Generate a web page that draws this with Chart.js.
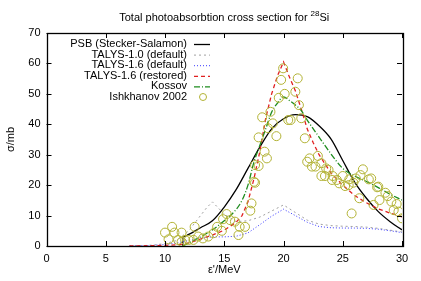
<!DOCTYPE html>
<html>
<head>
  <meta charset="utf-8">
  <title>Total photoabsorbtion cross section for 28Si</title>
  <style>
    * { margin: 0; padding: 0; }
    body { background: #fff; }
    #wrap { width: 421px; height: 281px; }
  </style>
  <script src="https://cdn.jsdelivr.net/npm/chart.js"></script>
</head>
<body>
  <div id="wrap"><canvas id="si28" width="421" height="281"></canvas></div>
  <script>
    // curves, energies in MeV and cross sections in mb
    const psbE = [11.5, 11.5, 12, 13, 14, 15, 16, 17, 18, 19, 20, 21, 22, 23, 24, 25, 26, 27, 28, 29, 30];
    const psbSigma = [0, 3, 3.8, 6, 8.3, 12.8, 18.5, 25.5, 32.5, 38.5, 41.8, 43.2, 42.5, 39.5, 35.2, 28.1, 21, 15.7, 11.3, 8, 5.3];

    const talys10E = [7, 8, 9, 10, 11, 12, 13, 13.5, 14, 14.5, 15, 16, 17, 18, 19, 20, 21, 22, 23, 24, 25, 26, 27, 28, 29, 30];
    const talys10Sigma = [0, 0.1, 0.3, 0.8, 1.8, 5, 10, 12.5, 14.5, 12.5, 10.5, 8, 8.3, 9.5, 11.5, 13.5, 11, 8.5, 7.2, 6.7, 6.5, 6.4, 6.2, 5.8, 5.2, 4.6];

    const talys16E = [7, 9, 10, 11, 12, 13, 14, 15, 16, 17, 18, 19, 20, 21, 22, 23, 24, 25, 26, 27, 28, 29, 30];
    const talys16Sigma = [0, 0.2, 0.5, 1, 1.8, 2.5, 3, 3, 3.2, 4.3, 7, 9.8, 12.1, 10, 7.8, 6.4, 6, 5.9, 5.9, 5.8, 5.5, 5, 4.4];

    const restoredE = [7, 9, 10, 11, 11.5, 12, 13, 14, 15, 16, 16.5, 17, 17.5, 18, 18.5, 19, 19.5, 20, 20.5, 21, 21.5, 22, 22.5, 23, 24, 25, 26, 27, 28, 29, 30];
    const restoredSigma = [0, 0.1, 0.2, 0.4, 0.6, 1, 2.3, 3.6, 5.2, 7.8, 10, 14.5, 22, 31, 42, 50, 56, 60.5, 55.5, 51, 45, 38.5, 34, 30, 24, 20, 16.6, 14.2, 12.2, 10.8, 9.6];

    const kossovE = [11.5, 12, 13, 14, 15, 16, 16.5, 17, 17.5, 18, 18.5, 19, 19.5, 20, 20.5, 21, 21.5, 22, 23, 24, 25, 26, 27, 28, 29, 30];
    const kossovSigma = [0, 1, 3, 5.3, 8.3, 12, 15, 20, 27.5, 33, 38.5, 44, 47, 49, 47.8, 46.3, 44.5, 41.4, 35.8, 30.3, 25.5, 23, 21.2, 19.2, 17, 15.1];

    // Ishkhanov 2002 measured points
    const ishE = [19.97, 19.8, 21.2, 20.1, 21.0, 19.6, 21.3, 18.9, 18.2, 20.4, 20.6, 21.5, 19.1, 19.4, 17.9, 21.8, 18.7, 18.4, 18.6, 17.9,
                  17.6, 17.3, 17.2, 15.2, 15.5, 14.4, 15.9, 16.3, 16.75, 16.2, 14.8, 14.1, 13.65, 13.2, 12.8, 12.4, 12.0, 12.5, 10.6, 10.0,
                  10.8, 11.4, 10.3, 11.1, 11.4, 11.7, 14.9, 17.5, 17.6,
                  22.0, 22.2, 22.4, 22.7, 22.9, 23.2, 23.6, 23.2, 23.5, 23.8, 24.15, 24.1, 24.5, 24.7, 25.0, 25.2, 25.5, 25.55, 25.9, 26.1,
                  26.5, 26.7, 27.2, 27.4, 27.9, 28.0, 28.6, 28.8, 29.1, 29.55, 28.1, 27.6, 26.4, 25.75, 29.3, 29.7, 30.0];
    const ishSigma = [58.4, 54.6, 55.1, 50, 50.7, 48.7, 46.3, 44.1, 42.3, 41.4, 41.4, 42, 40.3, 36.1, 35.7, 35.4, 38.7, 31, 28.8, 26.3,
                      20.8, 14, 11.6, 10.5, 8.5, 6.3, 8, 6.3, 6.3, 3.6, 5, 4.2, 3.1, 2.5, 3.1, 2, 2, 6.3, 6.3, 4.4,
                      4.4, 4.4, 2.2, 2, 1.4, 2, 8.8, 21.1, 26.6,
                      27.7, 28.8, 26.1, 26.1, 29.6, 27.2, 25.5, 23, 23, 25, 23, 21.7, 21.7, 20.6, 23, 19.7, 20, 21.9, 20.8, 22.2,
                      23.3, 25.2, 21.9, 22.2, 19.3, 19.5, 17.5, 16.4, 14.6, 13.8, 15.1, 13.5, 15.7, 10.7, 11.8, 11.3, 9.1];

    const xTicks = [0, 5, 10, 15, 20, 25, 30];
    const yTicks = [0, 10, 20, 30, 40, 50, 60, 70];

    function pts(xs, ys) {
      return xs.map((x, i) => ({ x: x, y: ys[i] }));
    }

    const FONT = "'Liberation Sans', Arial, sans-serif";

    // gnuplot-ish frame, inward ticks, title and legend
    const framePlugin = {
      id: 'frame',
      afterDraw(chart) {
        const ctx = chart.ctx;
        const a = chart.chartArea;
        const xs = chart.scales.x, ys = chart.scales.y;
        ctx.save();
        ctx.strokeStyle = '#000';
        ctx.lineWidth = 1;
        ctx.beginPath();
        xTicks.forEach(v => {
          const px = Math.round(xs.getPixelForValue(v)) + 0.5;
          ctx.moveTo(px, a.bottom); ctx.lineTo(px, a.bottom - 5);
          ctx.moveTo(px, a.top); ctx.lineTo(px, a.top + 5);
        });
        yTicks.forEach(v => {
          const py = Math.round(ys.getPixelForValue(v)) + 0.5;
          ctx.moveTo(a.left, py); ctx.lineTo(a.left + 5, py);
          ctx.moveTo(a.right, py); ctx.lineTo(a.right - 5, py);
        });
        ctx.stroke();
        ctx.lineWidth = 1.3;
        ctx.strokeRect(Math.round(a.left) + 0.5, Math.round(a.top) + 0.5, Math.round(a.right - a.left), Math.round(a.bottom - a.top));

        // title with superscript mass number
        ctx.fillStyle = '#000';
        ctx.textBaseline = 'alphabetic';
        const main = 'Total photoabsorbtion cross section for ';
        ctx.font = '11px ' + FONT;
        const w1 = ctx.measureText(main).width;
        ctx.font = '8px ' + FONT;
        const w2 = ctx.measureText('28').width;
        ctx.font = '11px ' + FONT;
        const w3 = ctx.measureText('Si').width;
        let tx = (a.left + a.right) / 2 - (w1 + w2 + w3) / 2;
        ctx.textAlign = 'left';
        ctx.fillText(main, tx, 21);
        ctx.font = '8px ' + FONT;
        ctx.fillText('28', tx + w1, 16);
        ctx.font = '11px ' + FONT;
        ctx.fillText('Si', tx + w1 + w2, 21);

        // legend
        ctx.font = '11px ' + FONT;
        ctx.textAlign = 'right';
        ctx.textBaseline = 'middle';
        chart.data.datasets.forEach((ds, i) => {
          const y = 44 + i * 10.6;
          ctx.fillStyle = '#000';
          ctx.fillText(ds.label, 187, y);
          if (ds.showLine) {
            ctx.strokeStyle = ds.borderColor;
            ctx.lineWidth = ds.borderWidth;
            ctx.setLineDash(ds.borderDash || []);
            ctx.beginPath();
            ctx.moveTo(194, y + 0.5); ctx.lineTo(210, y + 0.5);
            ctx.stroke();
            ctx.setLineDash([]);
          } else {
            ctx.strokeStyle = ds.borderColor;
            ctx.lineWidth = 1;
            ctx.beginPath();
            ctx.arc(203, y, 3.5, 0, Math.PI * 2);
            ctx.stroke();
          }
        });
        ctx.restore();
      }
    };

    const lineDefaults = { showLine: true, pointRadius: 0, fill: false };

    new Chart(document.getElementById('si28'), {
      type: 'scatter',
      data: {
        datasets: [
          Object.assign({ label: 'PSB (Stecker-Salamon)', data: pts(psbE, psbSigma), borderColor: '#000000', borderWidth: 1.3, cubicInterpolationMode: 'monotone', order: 5 }, lineDefaults),
          Object.assign({ label: 'TALYS-1.0 (default)', data: pts(talys10E, talys10Sigma), borderColor: '#a0a0a0', borderWidth: 1, borderDash: [2, 3], order: 4 }, lineDefaults),
          Object.assign({ label: 'TALYS-1.6 (default)', data: pts(talys16E, talys16Sigma), borderColor: '#3a3aff', borderWidth: 1, borderDash: [1, 2], order: 3 }, lineDefaults),
          Object.assign({ label: 'TALYS-1.6 (restored)', data: pts(restoredE, restoredSigma), borderColor: '#e02020', borderWidth: 1.3, borderDash: [4, 3], order: 2 }, lineDefaults),
          Object.assign({ label: 'Kossov', data: pts(kossovE, kossovSigma), borderColor: '#1e8c1e', borderWidth: 1.3, borderDash: [6, 2, 1, 2], cubicInterpolationMode: 'monotone', order: 1 }, lineDefaults),
          { label: 'Ishkhanov 2002', data: pts(ishE, ishSigma), showLine: false, pointRadius: 4.5, pointStyle: 'circle',
            borderColor: '#b2b234', backgroundColor: 'rgba(0,0,0,0)', borderWidth: 1, pointBorderWidth: 1, order: 0 }
        ]
      },
      options: {
        responsive: false,
        animation: false,
        layout: { padding: { left: 0, right: 19, top: 33, bottom: 0 } },
        plugins: { legend: { display: false }, title: { display: false }, tooltip: { enabled: false } },
        scales: {
          x: {
            type: 'linear', min: 0, max: 30,
            grid: { display: false, drawTicks: false },
            border: { display: false },
            ticks: { stepSize: 5, padding: 6, color: '#000', font: { family: FONT, size: 11 } },
            title: { display: true, text: 'ε\'/MeV', color: '#000', font: { family: FONT, size: 11 }, padding: { top: 2, bottom: 4 } },
            afterFit(scale) { scale.height = 35; }
          },
          y: {
            type: 'linear', min: 0, max: 70,
            grid: { display: false, drawTicks: false },
            border: { display: false },
            ticks: { stepSize: 10, padding: 6, color: '#000', font: { family: FONT, size: 11 } },
            title: { display: true, text: 'σ/mb', color: '#000', font: { family: FONT, size: 11 }, padding: { top: 4, bottom: 2 } },
            afterFit(scale) { scale.width = 46.5; }
          }
        }
      },
      plugins: [framePlugin]
    });
  </script>
</body>
</html>
